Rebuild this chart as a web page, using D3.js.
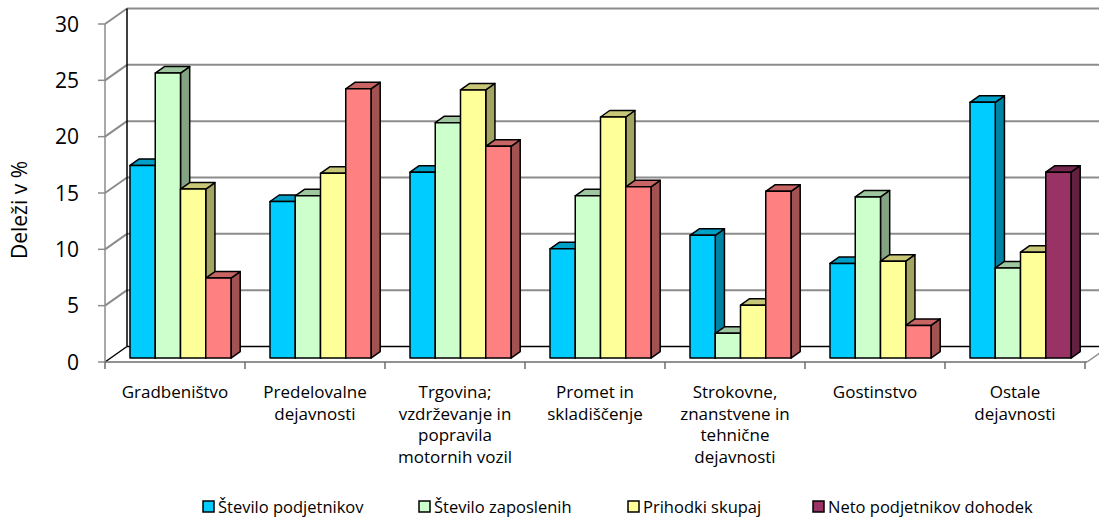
<!DOCTYPE html>
<html>
<head>
<meta charset="utf-8">
<script src="https://d3js.org/d3.v7.min.js"></script>
<style>
  body { margin: 0; background: #fff; }
  text { font-family: "Open Sans", "Noto Sans", sans-serif; fill: #000; }
</style>
</head>
<body>
<svg width="1099" height="518"></svg>
<script>
// data
const categories = ["Gradbeništvo", "Predelovalne dejavnosti", "Trgovina; vzdrževanje in popravila motornih vozil",
  "Promet in skladiščenje", "Strokovne, znanstvene in tehnične dejavnosti", "Gostinstvo", "Ostale dejavnosti"];
const categoryLines = [
  ["Gradbeništvo"],
  ["Predelovalne", "dejavnosti"],
  ["Trgovina;", "vzdrževanje in", "popravila", "motornih vozil"],
  ["Promet in", "skladiščenje"],
  ["Strokovne,", "znanstvene in", "tehnične", "dejavnosti"],
  ["Gostinstvo"],
  ["Ostale", "dejavnosti"]
];
const seriesNames = ["Število podjetnikov", "Število zaposlenih", "Prihodki skupaj", "Neto podjetnikov dohodek"];
const stevPodjetnikov = [17.1, 13.9, 16.5, 9.7, 10.9, 8.4, 22.7];
const stevZaposlenih  = [25.3, 14.4, 20.9, 14.4, 2.2, 14.3, 8.0];
const prihodkiSkupaj  = [15.0, 16.4, 23.8, 21.4, 4.7, 8.6, 9.4];
const netoDohodek     = [7.1, 23.9, 18.8, 15.2, 14.8, 2.9, 16.5];
const yTicks = [0, 5, 10, 15, 20, 25, 30];

const seriesValues = [stevPodjetnikov, stevZaposlenih, prihodkiSkupaj, netoDohodek];
const colors = ["#00CCFF", "#CCFFCC", "#FFFF99", "#FF8080"];
const legendColors = ["#00CCFF", "#CCFFCC", "#FFFF99", "#993366"];
// last point of the 4th series is drawn purple
function barColor(s, c) {
  if (s === 3 && c === categories.length - 1) return "#993366";
  return colors[s];
}
function shade(col, k) {
  const c = d3.rgb(col);
  return d3.rgb(c.r * k, c.g * k, c.b * k).formatHex();
}

const svg = d3.select("svg");

const x = d3.scaleBand().domain(d3.range(categories.length)).range([105, 1085]);
const y = d3.scaleLinear().domain([0, 30]).range([362, 24]);
const inner = d3.scaleBand().domain(d3.range(seriesNames.length)).range([19.5, 120.5]);

// oblique depth: full depth of the box, and position/depth of the bars
const depth = [22, -15.5];
const barOff = [5.5, -3.9];
const barDepth = [9.2, -6.5];

// walls
const grid = svg.append("g");
yTicks.forEach(t => {
  const yy = y(t);
  grid.append("line")
    .attr("x1", 105 + depth[0]).attr("x2", 1099)
    .attr("y1", yy + depth[1]).attr("y2", yy + depth[1])
    .attr("stroke", t === 0 ? "#000" : "#8c8c8c").attr("stroke-width", t === 0 ? 1.5 : 2);
  grid.append("line")
    .attr("x1", 105).attr("y1", yy)
    .attr("x2", 105 + depth[0]).attr("y2", yy + depth[1])
    .attr("stroke", t === 0 ? "#000" : "#8c8c8c").attr("stroke-width", t === 0 ? 1.5 : 2);
  // tick marks
  grid.append("line")
    .attr("x1", 98).attr("x2", 105).attr("y1", yy).attr("y2", yy)
    .attr("stroke", "#8c8c8c").attr("stroke-width", 1.5);
  grid.append("text")
    .attr("x", 79).attr("y", yy).attr("dy", "0.36em")
    .attr("text-anchor", "end").attr("font-size", 21)
    .text(t);
});
// back wall left edge
grid.append("line")
  .attr("x1", 105 + depth[0]).attr("x2", 105 + depth[0])
  .attr("y1", y(30) + depth[1]).attr("y2", y(0) + depth[1])
  .attr("stroke", "#000").attr("stroke-width", 1.5);
// front value axis
grid.append("line")
  .attr("x1", 105).attr("x2", 105).attr("y1", y(30)).attr("y2", y(0))
  .attr("stroke", "#8c8c8c").attr("stroke-width", 1.5);
// floor front edge and right edge
grid.append("line")
  .attr("x1", 105).attr("x2", 1087).attr("y1", y(0)).attr("y2", y(0))
  .attr("stroke", "#6e6e6e").attr("stroke-width", 1.5);
grid.append("line")
  .attr("x1", 1087).attr("y1", y(0))
  .attr("x2", 1087 + depth[0]).attr("y2", y(0) + depth[1])
  .attr("stroke", "#8c8c8c").attr("stroke-width", 1.5);
// category ticks
d3.range(categories.length + 1).forEach(i => {
  const xx = i < categories.length ? x(i) : x(categories.length - 1) + x.bandwidth();
  grid.append("line")
    .attr("x1", xx).attr("x2", xx).attr("y1", y(0)).attr("y2", y(0) + 7)
    .attr("stroke", "#6e6e6e").attr("stroke-width", 1.5);
});

// bars, painted left to right
const bars = svg.append("g")
  .attr("stroke", "#000").attr("stroke-width", 1.5).attr("stroke-linejoin", "round");
categories.forEach((cat, c) => {
  seriesValues.forEach((vals, s) => {
    const col = barColor(s, c);
    const xl = x(c) + inner(s) + barOff[0];
    const xr = xl + inner.bandwidth();
    const top = y(vals[c]) + barOff[1];
    const base = y(0) + barOff[1];
    const dx = barDepth[0], dy = barDepth[1];
    bars.append("polygon")
      .attr("points", [[xr, top], [xr + dx, top + dy], [xr + dx, base + dy], [xr, base]].join(" "))
      .attr("fill", shade(col, 0.64));
    bars.append("polygon")
      .attr("points", [[xl, top], [xl + dx, top + dy], [xr + dx, top + dy], [xr, top]].join(" "))
      .attr("fill", shade(col, 0.78));
    bars.append("rect")
      .attr("x", xl).attr("y", top)
      .attr("width", xr - xl).attr("height", base - top)
      .attr("fill", col);
  });
});

// category labels, one text per line
const labels = svg.append("g").attr("text-anchor", "middle").attr("font-size", 17);
categoryLines.forEach((lines, c) => {
  lines.forEach((ln, k) => {
    labels.append("text")
      .attr("x", x(c) + x.bandwidth() / 2)
      .attr("y", 398 + k * 21.5)
      .text(ln);
  });
});

// y title
svg.append("text")
  .attr("transform", "translate(27,210) rotate(-90)")
  .attr("text-anchor", "middle").attr("font-size", 21)
  .text("Deleži v %");

// legend
const legendX = [202, 418, 627, 812];
const legend = svg.append("g");
seriesNames.forEach((name, s) => {
  legend.append("rect")
    .attr("x", legendX[s] + 1).attr("y", 501).attr("width", 11).attr("height", 11)
    .attr("fill", legendColors[s]).attr("stroke", "#000").attr("stroke-width", 1.5);
  legend.append("text")
    .attr("x", legendX[s] + 16).attr("y", 507).attr("dy", "0.35em")
    .attr("font-size", 16.5)
    .text(name);
});
</script>
</body>
</html>
